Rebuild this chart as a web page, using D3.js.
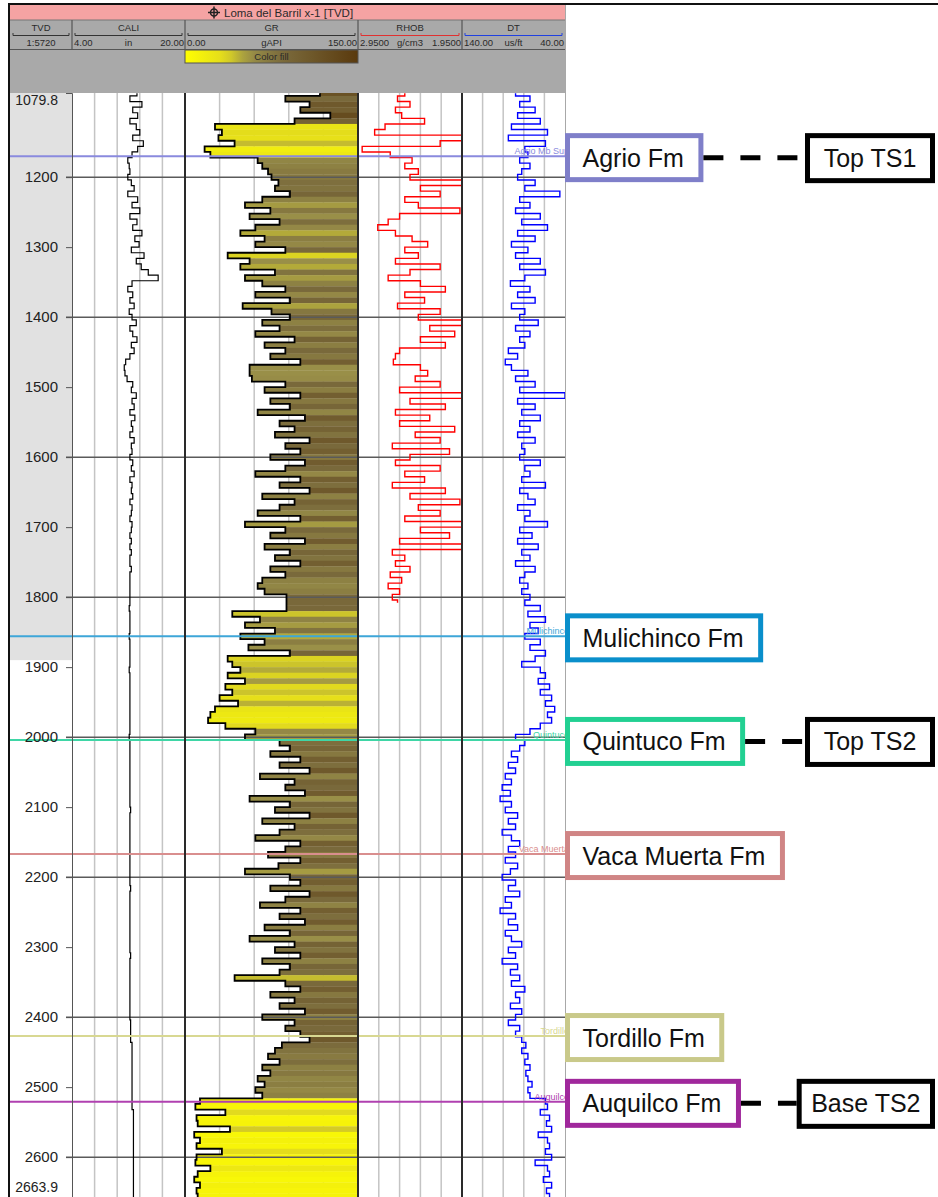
<!DOCTYPE html>
<html>
<head>
<meta charset="utf-8">
<script src="https://cdn.jsdelivr.net/npm/d3@7"></script>
<style>
  body { margin: 0; background: #fff; }
  svg { display: block; font-family: Arial, "Liberation Sans", sans-serif; }
</style>
</head>
<body>
<svg id="log" width="938" height="1197"></svg>
<script>
var wellTitle = 'Loma del Barril x-1 [TVD]';
var depthTop = 1079.8, depthBase = 2663.9;
var depthStart = 1080, depthStep = 8;     // sampling of the curve arrays below
var casingDepth = 1890;                    // grey shading of the depth track ends here

var trackNames = ['TVD', 'CALI', 'GR', 'RHOB', 'DT'];
var trackUnits = ['1:5720', 'in', 'gAPI', 'g/cm3', 'us/ft'];
var trackMinLabels = ['', '4.00', '0.00', '2.9500', '140.00'];
var trackMaxLabels = ['', '20.00', '150.00', '1.9500', '40.00'];

var gr = [
  117, 87, 108, 100, 126, 95, 26, 32, 29, 43,      // 1080
  17, 22, 63, 67, 72, 75, 81, 78, 91, 67,          // 1160
  52, 74, 56, 82, 61, 48, 69, 61, 87, 37,          // 1240
  56, 48, 78, 52, 67, 87, 61, 91, 50, 75,          // 1320
  91, 67, 82, 61, 95, 69, 87, 74, 100, 56,         // 1400
  56, 58, 87, 69, 100, 74, 91, 63, 104, 82,        // 1480
  95, 78, 108, 87, 100, 74, 104, 87, 61, 100,      // 1560
  82, 108, 67, 95, 82, 63, 100, 52, 87, 74,        // 1640
  104, 69, 91, 78, 100, 74, 87, 67, 63, 69,        // 1720
  88, 88, 88, 41, 65, 52, 78, 48, 69, 55,          // 1800
  91, 37, 41, 48, 37, 52, 35, 41, 30, 46,          // 1880
  26, 22, 20, 35, 61, 52, 82, 91, 74, 100,         // 1960
  82, 108, 65, 95, 87, 104, 56, 91, 78, 108,       // 2040
  67, 95, 82, 61, 100, 87, 72, 100, 81, 52,        // 2120
  91, 100, 74, 108, 87, 65, 100, 82, 104, 69,      // 2200
  91, 56, 95, 78, 100, 67, 91, 82, 43, 87,         // 2280
  100, 74, 95, 82, 104, 67, 95, 87, 100, 108,      // 2360
  84, 78, 72, 82, 67, 74, 63, 69, 61, 67,          // 2440
  13, 9, 35, 10, 11, 39, 8, 13, 10, 32,            // 2520
  10, 9, 22, 11, 8, 13, 10, 11, 9                  // 2600
];

var cali = [
  13.2, 12.2, 13.9, 12.6, 13.3, 12.2, 13.1, 13.6, 12.6, 14.1,   // 1080
  13.3, 12.5, 11.9, 12.1, 12.2, 11.9, 12.4, 12.8, 11.9, 13.3,   // 1160
  12.5, 13.6, 12.2, 13.2, 12.6, 13.9, 12.9, 13.5, 12.4, 14.2,   // 1240
  13.1, 13.8, 14.8, 16.2, 12.5, 11.9, 12.6, 12.2, 12.8, 12.1,   // 1320
  12.5, 13.1, 12.2, 12.6, 13.2, 12.4, 12.8, 12.2, 11.6, 11.4,   // 1400
  11.5, 11.8, 12.6, 12.4, 13.1, 12.5, 12.8, 12.2, 12.9, 12.4,   // 1480
  12.6, 12.2, 12.8, 12.4, 12.5, 12.2, 12.6, 12.4, 12.8, 12.2,   // 1560
  12.5, 12.4, 12.6, 12.2, 12.5, 12.4, 12.2, 12.5, 12.4, 12.2,   // 1640
  12.4, 12.2, 12.4, 12.2, 12.2, 12.4, 12.2, 12.2, 12.2, 12.2,   // 1720
  12.2, 12.2, 12.1, 12.2, 12.2, 12.2, 12.2, 12.1, 12.2, 12.2,   // 1800
  12.2, 12.2, 12.2, 12.1, 12.2, 12.2, 12.2, 12.2, 12.2, 12.2,   // 1880
  12.2, 12.2, 12.2, 12.2, 12.2, 12.1, 12.2, 12.2, 12.2, 12.2,   // 1960
  12.2, 12.2, 12.2, 12.2, 12.2, 12.2, 12.2, 12.2, 12.3, 12.2,   // 2040
  12.2, 12.2, 12.2, 12.2, 12.2, 12.2, 12.2, 12.2, 12.2, 12.2,   // 2120
  12.2, 12.2, 12.3, 12.2, 12.2, 12.2, 12.2, 12.2, 12.2, 12.2,   // 2200
  12.2, 12.2, 12.2, 12.2, 12.3, 12.2, 12.2, 12.2, 12.2, 12.2,   // 2280
  12.2, 12.2, 12.2, 12.2, 12.2, 12.2, 12.3, 12.3, 12.3, 12.3,   // 2360
  12.5, 12.5, 12.5, 12.5, 12.5, 12.5, 12.5, 12.5, 12.5, 12.5,   // 2440
  12.5, 12.5, 12.7, 12.7, 12.7, 12.7, 12.7, 12.7, 12.7, 12.7,   // 2520
  12.7, 12.7, 12.7, 12.7, 12.7, 12.7, 12.7, 12.7, 12.7          // 2600
];

var rhob = [
  2.50, 2.57, 2.45, 2.59, 2.53, 2.31, 2.69, 2.79, 1.95, 2.16,   // 1080
  2.91, 2.64, 2.43, 2.50, 2.37, 2.45, 1.95, 2.35, 2.16, 2.50,   // 1160
  2.37, 1.97, 2.55, 2.66, 2.76, 2.59, 2.43, 2.28, 2.50, 2.37,   // 1240
  2.59, 2.16, 2.45, 2.66, 2.35, 2.11, 2.50, 2.31, 2.57, 2.16,   // 1320
  2.37, 1.95, 2.26, 2.02, 2.35, 2.11, 2.55, 2.59, 2.61, 2.35,   // 1400
  2.28, 2.40, 2.16, 2.55, 1.95, 2.45, 2.11, 2.59, 2.26, 2.55,   // 1480
  2.02, 2.40, 2.16, 2.62, 2.07, 2.45, 2.59, 2.16, 2.50, 2.31,   // 1560
  2.62, 2.11, 2.45, 1.97, 2.37, 2.16, 2.50, 1.95, 2.35, 2.07,   // 1640
  2.55, 1.95, 2.62, 2.50, 2.59, 2.45, 2.64, 2.53, 2.66, 2.55,   // 1720
  2.62, 2.57                                                     // 1800
];

var dt = [
  88, 74, 84, 69, 86, 64, 92, 57, 95, 59,          // 1080
  79, 76, 84, 74, 82, 86, 69, 79, 45, 84,          // 1160
  74, 88, 64, 82, 57, 86, 69, 92, 76, 88,          // 1240
  64, 84, 59, 79, 93, 74, 86, 69, 92, 79,          // 1320
  84, 66, 88, 74, 84, 79, 95, 86, 98, 92,          // 1400
  76, 88, 69, 84, 40, 86, 69, 82, 64, 84,          // 1480
  74, 86, 69, 82, 79, 84, 64, 79, 74, 82,          // 1560
  59, 84, 76, 69, 86, 74, 79, 57, 84, 72,          // 1640
  86, 66, 82, 74, 88, 69, 79, 84, 76, 82,          // 1720
  74, 79, 64, 76, 59, 74, 66, 79, 64, 74,          // 1800
  59, 69, 82, 64, 59, 66, 55, 64, 53, 59,          // 1880
  50, 57, 53, 64, 74, 88, 79, 84, 92, 86,          // 1960
  95, 88, 98, 92, 101, 93, 103, 92, 98, 86,        // 2040
  95, 88, 101, 92, 84, 95, 88, 98, 86, 93,         // 2120
  101, 88, 95, 84, 98, 92, 103, 88, 95, 86,        // 2200
  98, 92, 82, 95, 88, 101, 86, 93, 84, 92,         // 2280
  79, 88, 84, 93, 82, 88, 95, 84, 88, 82,          // 2360
  78, 82, 76, 79, 74, 78, 76, 72, 76, 74,          // 2440
  59, 57, 64, 55, 58, 53, 66, 57, 55, 59,          // 2520
  53, 69, 57, 55, 61, 53, 58, 55, 57               // 2600
];

// formation tops picked on the log
var topNames = ['Agrio Mb Sup', 'Mulichinco', 'Quintuco', 'Vaca Muerta', 'Tordillo', 'Auquilco'];
var topDepths = [1170, 1856, 2004, 2167, 2427, 2521];
var fmLabels = ['Agrio Fm', 'Mulichinco Fm', 'Quintuco Fm', 'Vaca Muerta Fm', 'Tordillo Fm', 'Auquilco Fm'];
var seqLabels = ['Top TS1', '', 'Top TS2', '', '', 'Base TS2'];

// ---- layout ----
var W = 938, H = 1197;
var plotTop = 93;
var edges = [10, 72, 185, 358, 462, 565];   // track boundaries
var topLineColors = ['#8a8ade', '#3ea6d8', '#3fd6a6', '#d98e8e', '#d8d892', '#b040b0'];
var boxColors = ['#7f7fc9', '#0a8fcb', '#22d092', '#d08585', '#c9c98a', '#a0289c'];

var svg = d3.select('#log');

var y = d3.scaleLinear()
    .domain([depthTop, depthBase])
    .range([plotTop, plotTop + (depthBase - depthTop) * 0.7]);

var xCali = d3.scaleLinear().domain([4, 20]).range([edges[1], edges[2]]);
var xGr = d3.scaleLinear().domain([0, 150]).range([edges[2], edges[3]]);
var xRhob = d3.scaleLinear().domain([2.95, 1.95]).range([edges[3], edges[4]]);
var xDt = d3.scaleLinear().domain([140, 40]).range([edges[4], edges[5]]);

// yellow for clean sand, olive through to brown for shale
var grColor = d3.scaleLinear()
    .domain([0, 35, 55, 85, 150])
    .range(['#ffff00', '#e2da1e', '#9a9048', '#7a6a3c', '#5a3a0e'])
    .clamp(true);

function samples(values) {
  return values.map(function(v, i) { return { d: depthStart + i * depthStep, v: v }; });
}

var defs = svg.append('defs');
defs.append('clipPath').attr('id', 'plotClip')
  .append('rect')
    .attr('x', edges[0]).attr('y', plotTop)
    .attr('width', edges[5] - edges[0]).attr('height', H - plotTop);

var grad = defs.append('linearGradient').attr('id', 'grGrad');
d3.range(0, 151, 10).forEach(function(v) {
  grad.append('stop').attr('offset', v / 150).attr('stop-color', grColor(v));
});

// ---- plot body ----
var plot = svg.append('g').attr('clip-path', 'url(#plotClip)');

plot.append('rect')
    .attr('x', edges[0]).attr('y', plotTop)
    .attr('width', edges[1] - edges[0])
    .attr('height', y(casingDepth) - plotTop)
    .attr('fill', '#e1e1e1');

// light vertical grid, 5 divisions per track
[xCali, xGr, xRhob, xDt].forEach(function(sc) {
  var dom = sc.domain();
  d3.range(1, 5).forEach(function(k) {
    var xv = sc(dom[0] + k * (dom[1] - dom[0]) / 5);
    plot.append('line')
        .attr('x1', xv).attr('x2', xv)
        .attr('y1', plotTop).attr('y2', H)
        .attr('stroke', '#c4c4c4').attr('stroke-width', 1.5);
  });
});

// GR colour fill: one stripe per sample, from curve to the 150 edge
var grData = samples(gr);
plot.selectAll('.gr-fill')
  .data(grData)
  .enter()
  .append('rect')
    .attr('class', 'gr-fill')
    .attr('x', function(d) { return xGr(d.v); })
    .attr('width', function(d) { return edges[3] - xGr(d.v); })
    .attr('y', function(d) { return y(d.d - depthStep / 2); })
    .attr('height', function(d) { return y(d.d + depthStep / 2) - y(d.d - depthStep / 2) + 0.3; })
    .attr('fill', function(d) { return grColor(d.v); });

// major depth grid every 200 m
plot.selectAll('.hgrid')
  .data(d3.range(1200, 2700, 200))
  .enter()
  .append('line')
    .attr('class', 'hgrid')
    .attr('x1', edges[1] - 6).attr('x2', edges[5])
    .attr('y1', function(d) { return y(d); })
    .attr('y2', function(d) { return y(d); })
    .attr('stroke', '#5a5a5a').attr('stroke-width', 1.5);

// curves are stepped along depth: build the path with depth on x and swap
// the axes back with a transform, so d3.curveStep holds each value over its sample
function drawCurve(values, xs, color, width) {
  var line = d3.line()
      .x(function(d) { return y(d.d); })
      .y(function(d) { return xs(d.v); })
      .curve(d3.curveStep);
  plot.append('path')
      .datum(samples(values))
      .attr('d', line)
      .attr('transform', 'matrix(0,1,1,0,0,0)')
      .attr('fill', 'none')
      .attr('stroke', color)
      .attr('stroke-width', width);
}

drawCurve(cali, xCali, '#000', 1.2);
drawCurve(gr, xGr, '#000', 1.8);
drawCurve(rhob, xRhob, '#ff0000', 1.4);
drawCurve(dt, xDt, '#0000ff', 1.4);

// formation top lines + their small names in the DT track
topDepths.forEach(function(d, i) {
  plot.append('line')
      .attr('x1', edges[0]).attr('x2', edges[5])
      .attr('y1', y(d)).attr('y2', y(d))
      .attr('stroke', topLineColors[i]).attr('stroke-width', 2);
  plot.append('text')
      .attr('x', edges[5] + 4).attr('y', y(d) - 2)
      .attr('text-anchor', 'end')
      .attr('font-size', 9)
      .attr('fill', topLineColors[i])
      .text(topNames[i]);
});

// track borders
[edges[2], edges[3], edges[4]].forEach(function(xv) {
  svg.append('line')
      .attr('x1', xv).attr('x2', xv)
      .attr('y1', plotTop).attr('y2', H)
      .attr('stroke', '#2a2a2a').attr('stroke-width', 2);
});
svg.append('line')
    .attr('x1', edges[5] + 0.5).attr('x2', edges[5] + 0.5)
    .attr('y1', 4).attr('y2', H)
    .attr('stroke', '#a8a8a8').attr('stroke-width', 1);

// depth axis
var axisG = svg.append('g').attr('transform', 'translate(' + edges[1] + ',0)');
axisG.call(d3.axisLeft(y)
    .tickValues(d3.range(1080, 2670, 10))
    .tickSize(4)
    .tickFormat(''));
axisG.call(d3.axisLeft(y)
    .tickValues(d3.range(1200, 2700, 100))
    .tickSize(6)
    .tickPadding(8)
    .tickFormat(d3.format('d')));
axisG.selectAll('text').attr('font-size', 15).attr('fill', '#222')
    .attr('font-family', 'Arial, "Liberation Sans", sans-serif');
axisG.selectAll('line').attr('stroke', '#555');
axisG.selectAll('.domain').attr('stroke', '#555');

svg.append('text')
    .attr('x', edges[1] - 14).attr('y', plotTop + 8)
    .attr('text-anchor', 'end').attr('dominant-baseline', 'middle')
    .attr('font-size', 14).attr('fill', '#222')
    .text(depthTop.toFixed(1));
svg.append('text')
    .attr('x', edges[1] - 14).attr('y', 1188)
    .attr('text-anchor', 'end').attr('dominant-baseline', 'middle')
    .attr('font-size', 14).attr('fill', '#222')
    .text(depthBase.toFixed(1));

// ---- header ----
svg.append('rect')
    .attr('x', edges[0]).attr('y', 20)
    .attr('width', edges[5] - edges[0]).attr('height', plotTop - 20)
    .attr('fill', '#a9a9a9');
svg.append('rect')
    .attr('x', edges[0]).attr('y', 5)
    .attr('width', edges[5] - edges[0]).attr('height', 15)
    .attr('fill', '#f5a3a3');

var cross = svg.append('g').attr('transform', 'translate(214,12.5)');
cross.append('circle').attr('r', 3.5).attr('fill', 'none').attr('stroke', '#222').attr('stroke-width', 1.5);
cross.append('line').attr('x1', -6).attr('x2', 6).attr('stroke', '#222').attr('stroke-width', 1.5);
cross.append('line').attr('y1', -6).attr('y2', 6).attr('stroke', '#222').attr('stroke-width', 1.5);
svg.append('text')
    .attr('x', 224).attr('y', 17)
    .attr('font-size', 11.5).attr('fill', '#2a2a2a')
    .text(wellTitle);

svg.append('line').attr('x1', edges[0]).attr('x2', edges[5]).attr('y1', 20).attr('y2', 20)
    .attr('stroke', '#777');
svg.append('line').attr('x1', edges[0]).attr('x2', edges[5]).attr('y1', 49.5).attr('y2', 49.5)
    .attr('stroke', '#555');

var scaleColors = ['#333', '#333', '#333', '#e03030', '#2040e0'];
trackNames.forEach(function(name, i) {
  var x0 = edges[i], x1 = edges[i + 1], cx = (x0 + x1) / 2;
  if (i > 0) {
    svg.append('line').attr('x1', x0).attr('x2', x0).attr('y1', 20).attr('y2', 49.5)
        .attr('stroke', '#555').attr('stroke-width', 1.2);
  }
  svg.append('text').attr('x', cx).attr('y', 31)
      .attr('text-anchor', 'middle').attr('font-size', 9.5).attr('fill', '#2a2a2a')
      .text(name);
  svg.append('path')
      .attr('d', 'M' + (x0 + 3) + ',33V35.5H' + (x1 - 3) + 'V33')
      .attr('fill', 'none').attr('stroke', scaleColors[i]).attr('stroke-width', 1);
  svg.append('text').attr('x', cx).attr('y', 46)
      .attr('text-anchor', 'middle').attr('font-size', 9.5).attr('fill', '#2a2a2a')
      .text(trackUnits[i]);
  if (trackMinLabels[i]) {
    svg.append('text').attr('x', x0 + 2).attr('y', 46)
        .attr('font-size', 9.5).attr('fill', '#2a2a2a').text(trackMinLabels[i]);
    svg.append('text').attr('x', x1 - 1).attr('y', 46)
        .attr('text-anchor', 'end').attr('font-size', 9.5).attr('fill', '#2a2a2a').text(trackMaxLabels[i]);
  }
});

svg.append('rect')
    .attr('x', edges[2]).attr('y', 50)
    .attr('width', edges[3] - edges[2]).attr('height', 13)
    .attr('fill', 'url(#grGrad)')
    .attr('stroke', '#555').attr('stroke-width', 1);
svg.append('text')
    .attr('x', (edges[2] + edges[3]) / 2).attr('y', 60)
    .attr('text-anchor', 'middle').attr('font-size', 9.5).attr('fill', '#2a2a2a')
    .text('Color fill');

// outer frame
svg.append('path')
    .attr('d', 'M9,' + H + 'V4H' + W)
    .attr('fill', 'none').attr('stroke', '#111').attr('stroke-width', 2);

// ---- formation / sequence annotations on the right ----
var ann = svg.append('g').attr('font-size', 25).attr('fill', '#111');
topDepths.forEach(function(d, i) {
  var cy = y(d) + 1.5;
  var bx = edges[5] + 2.5;
  var t = ann.append('text')
      .attr('x', bx + 15).attr('y', cy + 9)
      .text(fmLabels[i]);
  var tw = t.node().getComputedTextLength();
  var bw = tw + 32;
  ann.insert('rect', 'text')
      .attr('x', bx).attr('y', cy - 22)
      .attr('width', bw).attr('height', 44)
      .attr('fill', '#fff')
      .attr('stroke', boxColors[i]).attr('stroke-width', 5);

  if (seqLabels[i]) {
    var st = ann.append('text')
        .attr('text-anchor', 'middle')
        .attr('y', cy + 9)
        .text(seqLabels[i]);
    var sw = Math.max(125, st.node().getComputedTextLength() + 24);
    var sx = 935 - 2.5 - sw;
    st.attr('x', sx + sw / 2);
    ann.insert('rect', 'text')
        .attr('x', sx).attr('y', cy - 22)
        .attr('width', sw).attr('height', 45)
        .attr('fill', '#fff')
        .attr('stroke', '#000').attr('stroke-width', 5);
    ann.append('line')
        .attr('x1', bx + bw + 2.5).attr('x2', sx - 2.5)
        .attr('y1', cy).attr('y2', cy)
        .attr('stroke', '#000').attr('stroke-width', 5)
        .attr('stroke-dasharray', '20,17');
  }
});
</script>
</body>
</html>
